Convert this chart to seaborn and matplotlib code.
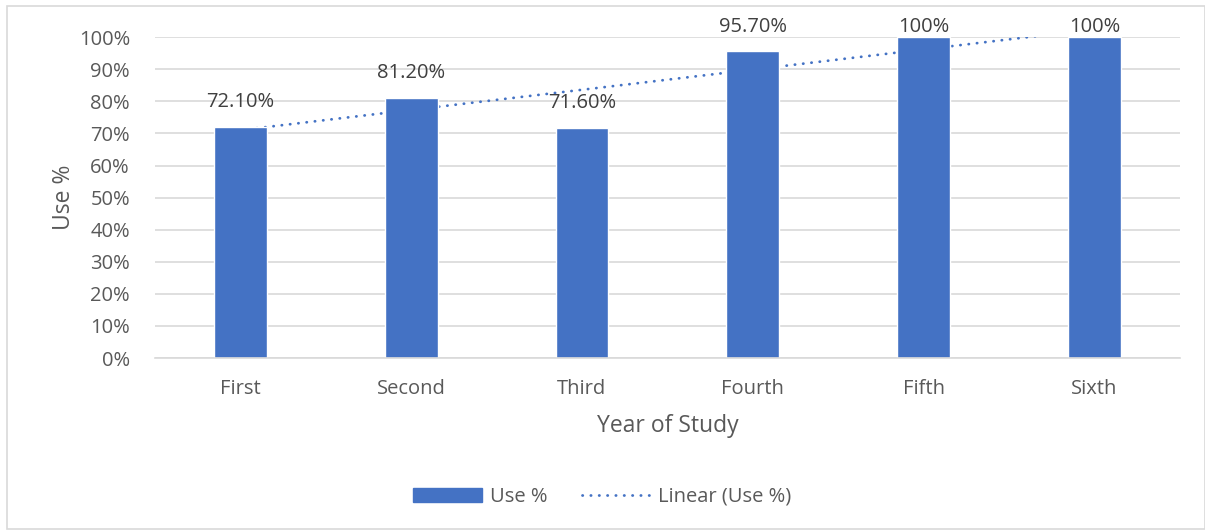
import matplotlib
matplotlib.use("Agg")
import matplotlib.pyplot as plt
import matplotlib.patches as mpatches
from matplotlib.lines import Line2D
from matplotlib.ticker import PercentFormatter
import seaborn as sns
import numpy as np
import pandas as pd

# data
years = ["First", "Second", "Third", "Fourth", "Fifth", "Sixth"]
use_pct = [0.721, 0.812, 0.716, 0.957, 1.00, 1.00]
bar_labels = ["72.10%", "81.20%", "71.60%", "95.70%", "100%", "100%"]

BLUE = "#4472C4"
TXT = "#595959"
DOTS = (0, (0.1, 2.9))

sns.set_theme(style="white")
plt.rcParams["font.family"] = ["Open Sans", "DejaVu Sans"]

df = pd.DataFrame({"year": years, "use": use_pct})

fig = plt.figure(figsize=(12.05, 5.32), dpi=100)
ax = fig.add_axes([0.1286, 0.327, 0.8505, 0.603])

# linear trendline (least squares, like Excel), drawn behind the bars
x = np.arange(len(years))
slope, icpt = np.polyfit(x + 1, use_pct, 1)
xt = np.linspace(0, len(years) - 1, 200)
ax.plot(xt, slope * (xt + 1) + icpt, color=BLUE, lw=2.0, ls=DOTS,
        dash_capstyle="round", zorder=1)

sns.barplot(data=df, x="year", y="use", color=BLUE, width=0.31,
            saturation=1, ax=ax, zorder=2)

for i, (v, lab) in enumerate(zip(use_pct, bar_labels)):
    ax.text(i, min(v + 0.078, 1.031), lab, ha="center", va="center",
            fontsize=14.5, color="#404040", clip_on=False, zorder=4)

ax.set_ylim(0, 1.0)
ax.set_xlim(-0.5, len(years) - 0.5)
ax.set_yticks(np.arange(0, 1.01, 0.1))
ax.yaxis.set_major_formatter(PercentFormatter(1.0, decimals=0))
ax.grid(axis="y", color="#d9d9d9", lw=1.2, zorder=0)
ax.set_axisbelow(True)
for s in ["top", "right", "left"]:
    ax.spines[s].set_visible(False)
ax.spines["bottom"].set_color("#d9d9d9")
ax.spines["bottom"].set_linewidth(1.2)
ax.tick_params(axis="both", length=0, labelsize=14.5, labelcolor=TXT)
ax.tick_params(axis="x", pad=15)
ax.tick_params(axis="y", pad=18)

ax.set_xlabel("Year of Study", fontsize=16.5, color=TXT, labelpad=11)
ax.set_ylabel("Use %", fontsize=16.5, color=TXT, labelpad=2)

handles = [mpatches.Patch(color=BLUE, label="Use %"),
           Line2D([], [], color=BLUE, lw=2.0, ls=DOTS,
                  dash_capstyle="round", label="Linear (Use %)")]
fig.legend(handles=handles, loc="center", bbox_to_anchor=(0.5, 0.066), ncol=2,
           frameon=False, fontsize=14.5, labelcolor=TXT, handlelength=3.4,
           handleheight=0.65, columnspacing=1.7, handletextpad=0.4)

# outer chart border
fig.patches.append(mpatches.Rectangle((0.006, 0.006), 0.994, 0.982,
                   transform=fig.transFigure, fill=False, ec="#d9d9d9", lw=1.2))

fig.savefig("out.png", dpi=100)
